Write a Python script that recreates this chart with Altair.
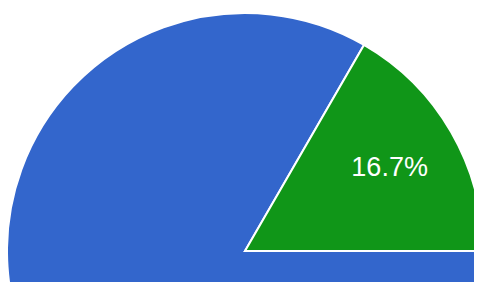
import math
import altair as alt
import pandas as pd

categories = ["A", "B"]
values = [5, 1]
colors = ["#3366cc", "#109618"]

df = pd.DataFrame({"cat": categories, "val": values, "order": [0, 1]})

theta = alt.Theta("val:Q", stack=True,
                  scale=alt.Scale(range=[math.pi / 2, math.pi / 2 + 2 * math.pi]))
base = alt.Chart(df).encode(
    theta=theta,
    order=alt.Order("order:Q"),
)

arcs = base.mark_arc(outerRadius=238, stroke="white", strokeWidth=2).encode(
    x=alt.value(237), y=alt.value(243),
    color=alt.Color("cat:N", scale=alt.Scale(domain=categories, range=colors), legend=None),
)

labels = base.transform_joinaggregate(total="sum(val)").transform_calculate(
    pct="datum.cat == 'B' ? format(datum.val / datum.total * 100, '.1f') + '%' : ''"
).mark_text(radius=167, fontSize=27, font="Liberation Sans", color="white",
            align="center", baseline="middle").encode(
    x=alt.value(237), y=alt.value(243),
    text="pct:N",
)

chart = (arcs + labels).properties(
    width=466, height=274, padding=0,
    autosize=alt.AutoSizeParams(type="none"),
).configure_view(strokeWidth=0)

chart.save("out.html", embed_options={"renderer": "svg", "actions": False})
